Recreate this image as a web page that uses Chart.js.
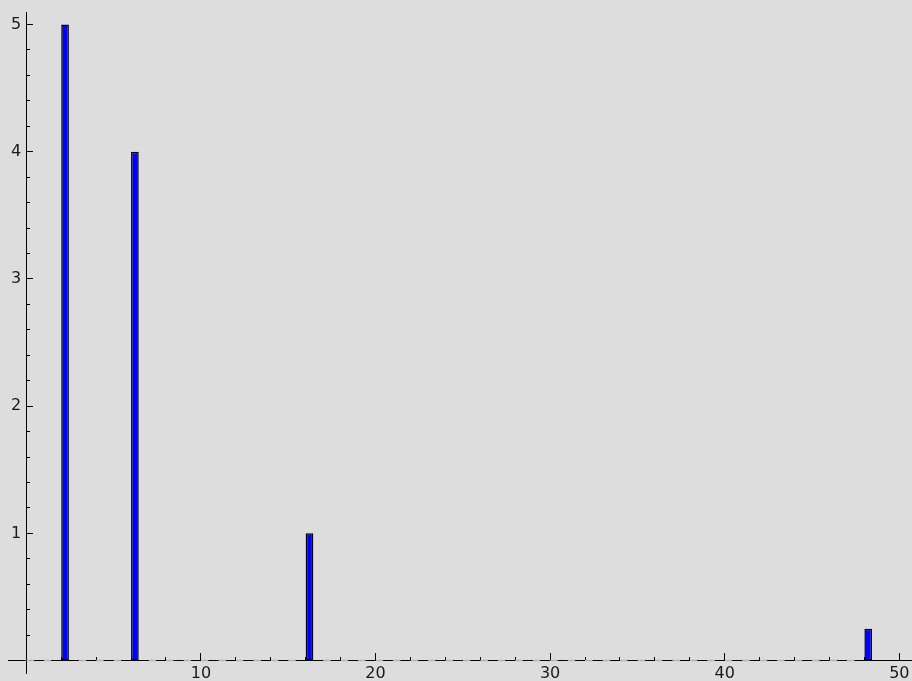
<!DOCTYPE html>
<html>
<head>
<meta charset="utf-8">
<script src="https://cdn.jsdelivr.net/npm/chart.js@4/dist/chart.umd.min.js"></script>
<style>
html,body{margin:0;padding:0;background:#dddddd;overflow:hidden}
canvas{display:block}
</style>
</head>
<body>
<canvas id="c" width="912" height="681"></canvas>
<script>
// ---- data ----
const positions = [0,1,2,3,4,5,6,7,8,9,10,11,12,13,14,15,16,17,18,19,20,21,22,23,24,25,26,27,28,29,30,31,32,33,34,35,36,37,38,39,40,41,42,43,44,45,46,47,48];
const counts = [0,0,5,0,0,0,4,0,0,0, 0,0,0,0,0,0,1,0,0,0, 0,0,0,0,0,0,0,0,0,0, 0,0,0,0,0,0,0,0,0,0, 0,0,0,0,0,0,0,0,0.25];
const xTickLabels = [10,20,30,40,50];
const xMinorTicks = [2,4,6,8,10,12,14,16,18,20,22,24,26,28,30,32,34,36,38,40,42,44,46,48,50];
const yTickLabels = [1,2,3,4,5];
const yMinorTicks = [0.2,0.4,0.6,0.8,1.0,1.2,1.4,1.6,1.8,2.0,2.2,2.4,2.6,2.8,3.0,3.2,3.4,3.6,3.8,4.0,4.2,4.4,4.6,4.8,5.0];

// ---- view ----
const X_MIN = -1.048, X_MAX = 50.727;
const Y_MIN = -0.0975, Y_MAX = 5.098;
const Y_LABEL_X = -0.29;   // y tick labels sit just left of the y axis
const FONT = {family: 'DejaVu Sans', size: 16, lineHeight: 1};
const TEXT = '#1a1a1a';

const setTicks = arr => scale => { scale.ticks = arr.map(v => ({value: v})); };

function xScale(tickArr, tickLen, withLabels) {
  return {
    type: 'linear', axis: 'x', min: X_MIN, max: X_MAX, offset: false,
    position: {y: 0}, z: 1, display: true,
    grid: {display: true, drawOnChartArea: false, drawTicks: true, offset: false,
           tickLength: tickLen, tickWidth: 1,
           tickColor: withLabels ? 'rgba(0,0,0,0)' : '#000000'},
    border: {display: withLabels, color: '#000000', width: 1},
    ticks: {display: withLabels, padding: 0, font: FONT, color: TEXT,
            maxRotation: 0, autoSkip: false, callback: v => String(v)},
    afterBuildTicks: setTicks(tickArr)
  };
}
function yScale(tickArr, tickLen, withLabels, withBorder, posX) {
  return {
    type: 'linear', axis: 'y', min: Y_MIN, max: Y_MAX,
    position: {x: posX}, z: 1, display: true,
    grid: {display: true, drawOnChartArea: false, drawTicks: true, offset: false,
           tickLength: tickLen, tickWidth: 1,
           tickColor: withLabels ? 'rgba(0,0,0,0)' : '#000000'},
    border: {display: withBorder, color: '#000000', width: 1},
    ticks: {display: withLabels, padding: 0, font: FONT, color: TEXT,
            autoSkip: false, callback: v => String(v)},
    afterBuildTicks: setTicks(tickArr)
  };
}

new Chart(document.getElementById('c'), {
  type: 'bar',
  data: {
    datasets: [
      {data: [], xAxisID: 'x', yAxisID: 'y'},
      {
        data: positions.map((p, i) => ({x: p, y: counts[i]})),
        xAxisID: 'x', yAxisID: 'y',
        backgroundColor: '#0000ff',
        borderColor: ctx => (ctx.raw && ctx.raw.y === 0) ? '#b4b4b4' : '#000000',
        borderWidth: 1.5,
        borderSkipped: false,
        minBarLength: 2
      }
    ]
  },
  options: {
    responsive: false,
    devicePixelRatio: 1,
    animation: false,
    layout: {padding: {left: 8, top: 12, right: 0, bottom: 8}},
    datasets: {bar: {categoryPercentage: 0.88, barPercentage: 1, grouped: true}},
    plugins: {legend: {display: false}, tooltip: {enabled: false}},
    scales: {
      x: xScale(xTickLabels, 5, true),
      xMajor: xScale(xTickLabels, -8, false),
      xMinor: xScale(xMinorTicks, -4, false),
      y: yScale(yTickLabels, 0, true, false, Y_LABEL_X),
      yMajor: yScale(yTickLabels, -7, false, true, 0),
      yMinor: yScale(yMinorTicks, -4, false, false, 0)
    }
  }
});
</script>
</body>
</html>
